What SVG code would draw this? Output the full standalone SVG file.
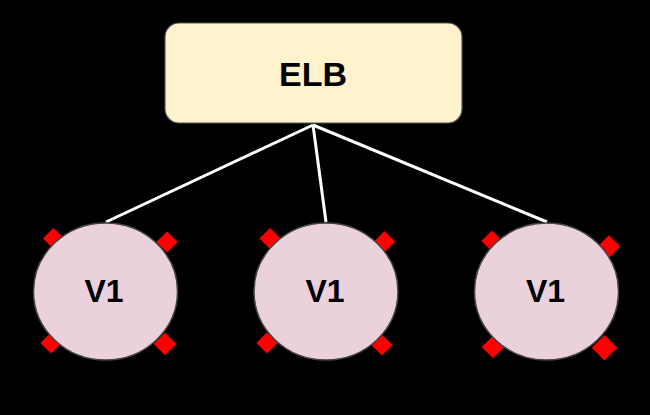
<svg xmlns="http://www.w3.org/2000/svg" width="650" height="415" viewBox="0 0 650 415">
<style>
.port{fill:#ff0000;}
.vm{fill:#ead1dc;stroke:#444444;stroke-width:1.5;}
.lbl{font-family:"Liberation Sans",Arial,sans-serif;font-weight:bold;fill:#000000;text-anchor:middle;dominant-baseline:central;}
.conn{stroke:#ffffff;stroke-width:3;fill:none;}
</style>
<rect width="650" height="415" fill="#000000"/>
<g id="connectors">
<line class="conn" x1="313" y1="125" x2="106" y2="222"/>
<line class="conn" x1="313" y1="125" x2="326" y2="222"/>
<line class="conn" x1="313" y1="125" x2="547" y2="222"/>
</g>
<g id="elb">
<rect x="165" y="23" width="297" height="100" rx="14" fill="#fff2cc" stroke="#555555" stroke-width="1.2"/>
<text class="lbl" x="313" y="74" font-size="34">ELB</text>
</g>
<g id="v1a">
<rect class="port" x="-7.5" y="-7.5" width="15" height="15" transform="translate(53.5,238.5) rotate(45)"/>
<rect class="port" x="-7.5" y="-7.5" width="15" height="15" transform="translate(167,242) rotate(45)"/>
<rect class="port" x="-7.5" y="-7.5" width="15" height="15" transform="translate(51,343) rotate(45)"/>
<rect class="port" x="-8" y="-8" width="16" height="16" transform="translate(165,344) rotate(45)"/>
<ellipse class="vm" cx="105.5" cy="291.5" rx="72" ry="68.5"/>
<text class="lbl" x="104" y="291" font-size="32">V1</text>
</g>
<g id="v1b">
<rect class="port" x="-7.5" y="-7.5" width="15" height="15" transform="translate(270,238.5) rotate(45)"/>
<rect class="port" x="-7.5" y="-7.5" width="15" height="15" transform="translate(384.5,241.7) rotate(45)"/>
<rect class="port" x="-7.5" y="-7.5" width="15" height="15" transform="translate(267,343) rotate(45)"/>
<rect class="port" x="-7.5" y="-7.5" width="15" height="15" transform="translate(382,345) rotate(45)"/>
<ellipse class="vm" cx="326" cy="291.5" rx="72" ry="68.5"/>
<text class="lbl" x="325" y="291" font-size="32">V1</text>
</g>
<g id="v1c">
<rect class="port" x="-7.5" y="-7.5" width="15" height="15" transform="translate(492,241) rotate(45)"/>
<rect class="port" x="-8" y="-8" width="16" height="16" transform="translate(609,246.5) rotate(45)"/>
<rect class="port" x="-8" y="-8" width="16" height="16" transform="translate(493,347) rotate(45)"/>
<rect class="port" x="-9" y="-9" width="18" height="18" transform="translate(604.5,347.7) rotate(45)"/>
<ellipse class="vm" cx="546.5" cy="291.5" rx="72" ry="68.5"/>
<text class="lbl" x="545.5" y="291" font-size="32">V1</text>
</g>
</svg>
